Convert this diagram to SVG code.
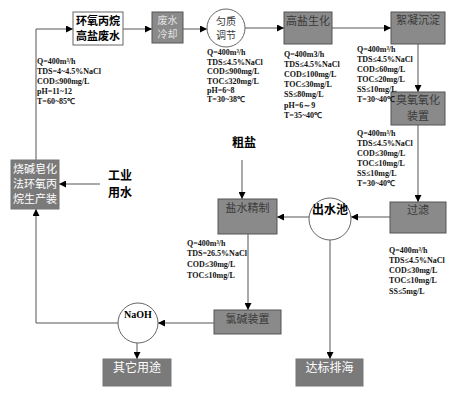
<svg xmlns="http://www.w3.org/2000/svg" width="471" height="404" viewBox="0 0 471 404">
<style>
.box{fill:#8a8a8a;stroke:#555;stroke-width:1}
.wbox{fill:#fff;stroke:#666;stroke-width:1}
.dbox{fill:#7a7a7a;stroke:#777;stroke-width:1}
.circ{fill:#fff;stroke:#666;stroke-width:1}
.cn{font-family:"Noto Sans CJK SC",sans-serif;font-size:11px;text-anchor:middle}
.sm{font-size:10px}
.dk{fill:#3a3a3a}
.wt{fill:#fff}
.lt{fill:#e2e2e2}
.bk{fill:#000;font-weight:bold}
.sp{font-family:"Liberation Serif","Times New Roman",serif;font-size:8px;font-weight:bold;fill:#111}
.ln{fill:none;stroke:#555;stroke-width:1;marker-end:url(#ah)}
</style>
<defs>
<marker id="ah" viewBox="0 0 8 8" refX="8" refY="4" markerWidth="7" markerHeight="7" markerUnits="userSpaceOnUse" orient="auto">
<path d="M0,0 L8,4 L0,8 z" fill="#000"/>
</marker>
</defs>
<rect width="471" height="404" fill="#fff"/>

<g id="connectors">
<polyline class="ln" points="36,160 36,29 73,29"/>
<line class="ln" x1="123" y1="29" x2="152" y2="29"/>
<line class="ln" x1="183" y1="29" x2="207" y2="29"/>
<line class="ln" x1="245" y1="28" x2="284" y2="28"/>
<line class="ln" x1="332" y1="28" x2="391" y2="28"/>
<line class="ln" x1="418" y1="44" x2="418" y2="92"/>
<line class="ln" x1="418" y1="125" x2="418" y2="202"/>
<line class="ln" x1="390" y1="217" x2="351" y2="217"/>
<line class="ln" x1="309" y1="217" x2="277" y2="217"/>
<line class="ln" x1="242" y1="160" x2="242" y2="199"/>
<line class="ln" x1="248" y1="234" x2="248" y2="310"/>
<line class="ln" x1="214" y1="323" x2="158" y2="323"/>
<polyline class="ln" points="118,323 36,323 36,209"/>
<line class="ln" x1="100" y1="184" x2="59" y2="184"/>
<line class="ln" x1="137" y1="343" x2="137" y2="359"/>
<line class="ln" x1="330" y1="240" x2="330" y2="359"/>
</g>

<g id="n-epoxy">
<rect class="wbox" x="73" y="12" width="50" height="33"/>
<text class="cn bk" x="98" y="25">环氧丙烷</text>
<text class="cn bk" x="98" y="40">高盐废水</text>
</g>
<g id="n-cool">
<rect class="box" x="152" y="12" width="31" height="31"/>
<text class="cn sm lt" x="167.5" y="24">废水</text>
<text class="cn sm lt" x="167.5" y="38">冷却</text>
</g>
<g id="n-equal">
<circle class="circ" cx="226" cy="28" r="19"/>
<text class="cn sm dk" x="226" y="25">匀质</text>
<text class="cn sm dk" x="226" y="39">调节</text>
</g>
<g id="n-bio">
<rect class="box" x="284" y="12" width="48" height="32"/>
<text class="cn dk" x="308" y="25">高盐生化</text>
</g>
<g id="n-floc">
<rect class="box" x="391" y="12" width="54" height="32"/>
<text class="cn dk" x="418" y="24">絮凝沉淀</text>
</g>
<g id="n-ozone">
<rect class="box" x="391" y="92" width="54" height="33"/>
<text class="cn dk" x="418" y="104">臭氧氧化</text>
<text class="cn dk" x="418" y="120">装置</text>
</g>
<g id="n-filter">
<rect class="box" x="390" y="202" width="56" height="31"/>
<text class="cn dk" x="418" y="214">过滤</text>
</g>
<g id="n-pool">
<circle class="circ" cx="330" cy="219" r="21"/>
<text class="cn bk" x="330" y="214" style="font-size:12px">出水池</text>
</g>
<g id="n-brine">
<rect class="box" x="218" y="199" width="59" height="35"/>
<text class="cn dk" x="247.5" y="212">盐水精制</text>
</g>
<g id="n-crude">
<text class="cn bk" x="244" y="147" style="font-size:12px">粗盐</text>
</g>
<g id="n-chlor">
<rect class="box" x="214" y="310" width="67" height="24"/>
<text class="cn dk" x="247.5" y="323">氯碱装置</text>
</g>
<g id="n-naoh">
<circle class="circ" cx="138" cy="323" r="20"/>
<text x="138" y="318" text-anchor="middle" style="font-family:'Liberation Serif',serif;font-size:10px;font-weight:bold">NaOH</text>
</g>
<g id="n-other">
<rect class="dbox" x="103" y="359" width="68" height="27"/>
<text class="cn wt" x="137" y="372" style="font-size:12px">其它用途</text>
</g>
<g id="n-discharge">
<rect class="dbox" x="296" y="359" width="67" height="27"/>
<text class="cn wt" x="329.5" y="372" style="font-size:12px">达标排海</text>
</g>
<g id="n-plant">
<rect class="dbox" x="11" y="160" width="48" height="49"/>
<text class="cn wt" x="35" y="173">烧碱皂化</text>
<text class="cn wt" x="35" y="188">法环氧丙</text>
<text class="cn wt" x="35" y="203">烷生产装</text>
</g>
<g id="n-water">
<text class="cn bk" x="120" y="180" style="font-size:12px">工业</text>
<text class="cn bk" x="120" y="197" style="font-size:12px">用水</text>
</g>

<g id="specs">
<text class="sp" x="37" y="64">Q=400m³/h</text>
<text class="sp" x="37" y="74">TDS=4~4.5%NaCl</text>
<text class="sp" x="37" y="84">COD≤900mg/L</text>
<text class="sp" x="37" y="94">pH=11~12</text>
<text class="sp" x="37" y="104">T=60~85℃</text>

<text class="sp" x="207" y="55">Q=400m³/h</text>
<text class="sp" x="207" y="65">TDS≤4.5%NaCl</text>
<text class="sp" x="207" y="74">COD≤900mg/L</text>
<text class="sp" x="207" y="84">TOC≤320mg/L</text>
<text class="sp" x="207" y="93">pH=6~8</text>
<text class="sp" x="207" y="102">T=30~38℃</text>

<text class="sp" x="284" y="57">Q=400m3/h</text>
<text class="sp" x="284" y="67">TDS≤4.5%NaCl</text>
<text class="sp" x="284" y="77">COD≤100mg/L</text>
<text class="sp" x="284" y="87">TOC≤30mg/L</text>
<text class="sp" x="284" y="97">SS≤80mg/L</text>
<text class="sp" x="284" y="108">pH=6～9</text>
<text class="sp" x="284" y="118">T=35~40℃</text>

<text class="sp" x="357" y="52">Q=400m³/h</text>
<text class="sp" x="357" y="62">TDS≤4.5%NaCl</text>
<text class="sp" x="357" y="72">COD≤60mg/L</text>
<text class="sp" x="357" y="82">TOC≤20mg/L</text>
<text class="sp" x="357" y="92">SS≤10mg/L</text>
<text class="sp" x="357" y="102">T=30~40℃</text>

<text class="sp" x="357" y="136">Q=400m³/h</text>
<text class="sp" x="357" y="146">TDS≤4.5%NaCl</text>
<text class="sp" x="357" y="156">COD≤30mg/L</text>
<text class="sp" x="357" y="166">TOC≤10mg/L</text>
<text class="sp" x="357" y="176">SS≤10mg/L</text>
<text class="sp" x="357" y="186">T=30~40℃</text>

<text class="sp" x="389" y="253">Q=400m³/h</text>
<text class="sp" x="389" y="263">TDS≤4.5%NaCl</text>
<text class="sp" x="389" y="273">COD≤30mg/L</text>
<text class="sp" x="389" y="283">TOC≤10mg/L</text>
<text class="sp" x="389" y="294">SS≤5mg/L</text>

<text class="sp" x="187" y="246">Q=400m³/h</text>
<text class="sp" x="187" y="256">TDS=26.5%NaCl</text>
<text class="sp" x="187" y="267">COD≤30mg/L</text>
<text class="sp" x="187" y="278">TOC≤10mg/L</text>
</g>
</svg>
